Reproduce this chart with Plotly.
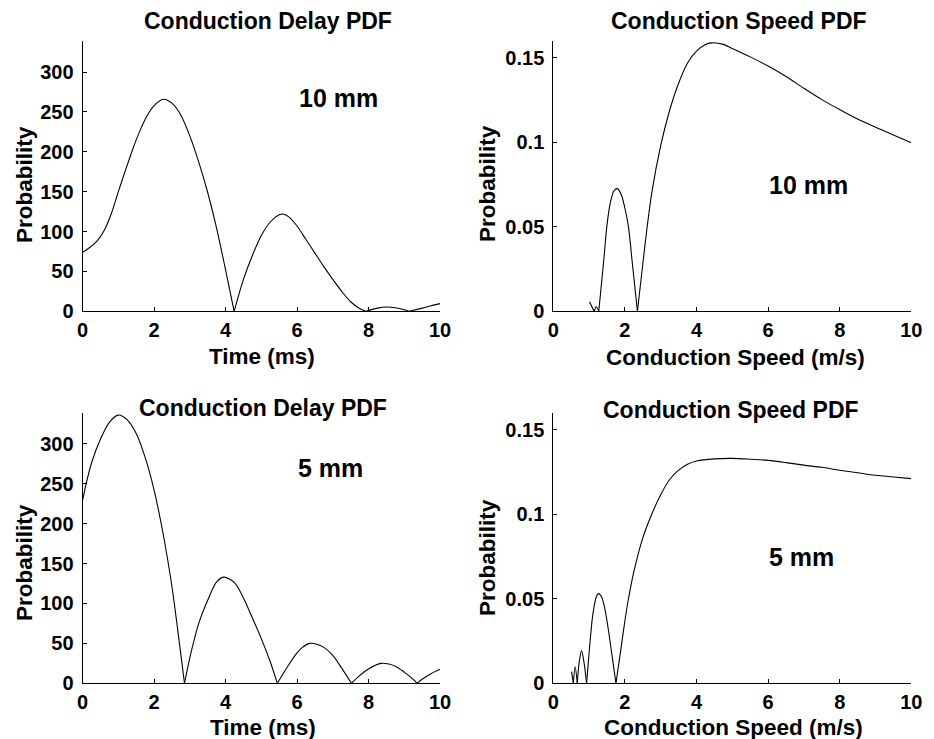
import plotly.graph_objects as go

# The page body adds an 8px margin, so the figure is drawn 8px smaller and
# every screen-pixel position below is shifted by that offset.
SCREEN_W, SCREEN_H = 934, 739
OFF = 8
W, H = SCREEN_W - OFF, SCREEN_H - OFF

# ---- data ----
delay_t_10mm = [0, 0.2, 0.4, 0.6, 0.8, 1.0, 1.2, 1.4, 1.6, 1.8, 2.0, 2.26, 2.5, 2.75, 3.0, 3.25, 3.5, 3.75, 4.0, 4.24,
                4.5, 4.75, 5.0, 5.25, 5.5, 5.61, 5.75, 6.0, 6.25, 6.5, 6.75, 7.0, 7.25, 7.5, 7.75, 7.93,
                8.25, 8.5, 8.75, 9.0, 9.14, 9.5, 9.75, 10.0]
delay_p_10mm = [74, 80, 88, 101, 122, 150, 177, 203, 226, 245, 258, 266, 261, 246, 220, 187, 149, 104, 52, 0,
                40, 70, 95, 112, 121, 122, 119, 107, 90, 73, 56, 40, 25, 12, 3.5, 0,
                4, 5.4, 4.5, 2, 0, 4, 7, 9.6]

delay_t_5mm = [0, 0.1, 0.25, 0.5, 0.75, 1.0, 1.25, 1.5, 1.75, 2.0, 2.25, 2.5, 2.71, 2.85,
               3.0, 3.25, 3.5, 3.75, 3.96, 4.25, 4.5, 4.75, 5.0, 5.25, 5.45,
               5.75, 6.0, 6.15, 6.35, 6.55, 6.75, 7.0, 7.25, 7.52, 7.75, 8.0, 8.35, 8.75, 9.0, 9.25, 9.36,
               9.5, 9.75, 10.0]
delay_p_5mm = [229, 250, 276, 306, 327, 336, 330, 313, 283, 242, 188, 121, 50, 0,
               32, 75, 104, 127, 133, 126, 107, 82, 56, 27, 0,
               22, 38, 45, 50, 49, 45, 35, 19, 0, 9.6, 18, 25, 21.5, 14, 5, 0,
               5, 12, 17.6]

speed_v_10mm = [1.01, 1.14, 1.2, 1.27, 1.4, 1.5, 1.6, 1.7, 1.79, 1.9, 2.0, 2.1, 2.2, 2.3, 2.35,
                2.5, 2.61, 2.75, 3.0, 3.25, 3.5, 3.75, 4.0, 4.25, 4.42, 4.75, 5.0, 5.5, 6.0, 6.5,
                7.0, 7.5, 8.0, 8.5, 9.0, 9.5, 10.0]
speed_p_10mm = [0.0057, 0, 0.0027, 0, 0.028, 0.051, 0.065, 0.0715, 0.0726, 0.069, 0.061, 0.05, 0.03, 0.01, 0,
                0.028, 0.048, 0.07, 0.098, 0.119, 0.135, 0.147, 0.154, 0.158, 0.1589, 0.158, 0.1555,
                0.1506, 0.1452, 0.139, 0.132, 0.1253, 0.1194, 0.1138, 0.109, 0.1044, 0.0997]

speed_v_5mm = [0.51, 0.56, 0.61, 0.67, 0.72, 0.79, 0.86, 0.93, 1.0, 1.1, 1.2, 1.26, 1.35, 1.45, 1.55,
               1.65, 1.75, 1.9, 2.0, 2.1, 2.25, 2.5, 2.75, 3.0, 3.25, 3.5, 3.75, 4.0, 4.5, 5.0,
               5.5, 6.0, 6.5, 7.0, 7.5, 8.0, 8.5, 9.0, 9.5, 10.0]
speed_p_5mm = [0.0069, 0, 0.0098, 0, 0.012, 0.0193, 0.012, 0, 0.018, 0.04, 0.051, 0.053, 0.051, 0.043, 0.03,
               0.015, 0, 0.022, 0.037, 0.05, 0.066, 0.086, 0.1, 0.1115, 0.1205, 0.126, 0.1295, 0.1314, 0.1327,
               0.133, 0.1325, 0.1318, 0.1305, 0.129, 0.1277, 0.126, 0.1245, 0.123, 0.122, 0.121]

x_ticks = [0, 2, 4, 6, 8, 10]
delay_ticks = [0, 50, 100, 150, 200, 250, 300]
speed_ticks = [0, 0.05, 0.1, 0.15]
speed_tick_text = ["0", "0.05", "0.1", "0.15"]

titles = ["Conduction Delay PDF", "Conduction Speed PDF", "Conduction Delay PDF", "Conduction Speed PDF"]
xlabels = ["Time (ms)", "Conduction Speed (m/s)", "Time (ms)", "Conduction Speed (m/s)"]
ylabel = "Probability"
dist_labels = ["10 mm", "10 mm", "5 mm", "5 mm"]

# ---- layout ----
FONT = "Liberation Sans, Arial, Helvetica, sans-serif"


def px_x(p):
    return (p - OFF) / W


def px_y(p):
    return 1 - (p - OFF) / H


def lobes(xs, ys):
    """Split a curve at its zero points (cusps) so each lobe is drawn smooth."""
    segs, cur_x, cur_y = [], [], []
    for xv, yv in zip(xs, ys):
        cur_x.append(xv)
        cur_y.append(yv)
        if yv == 0 and len(cur_x) > 1:
            segs.append((cur_x, cur_y))
            cur_x, cur_y = [xv], [yv]
    if len(cur_x) > 1:
        segs.append((cur_x, cur_y))
    return segs


left_dom = [px_x(82.6), px_x(440)]
right_dom = [px_x(553.3), px_x(911.3)]
top_dom = [px_y(311.3), px_y(41)]
bot_dom = [px_y(683.3), px_y(412.7)]

panels = [
    dict(x=delay_t_10mm, y=delay_p_10mm, xd=left_dom, yd=top_dom, yr=[0, 339], yt=delay_ticks, ytt=None,
         lab_xy=(7.15, 268)),
    dict(x=speed_v_10mm, y=speed_p_10mm, xd=right_dom, yd=top_dom, yr=[0, 0.16], yt=speed_ticks, ytt=speed_tick_text,
         lab_xy=(7.14, 0.0746)),
    dict(x=delay_t_5mm, y=delay_p_5mm, xd=left_dom, yd=bot_dom, yr=[0, 339], yt=delay_ticks, ytt=None,
         lab_xy=(6.95, 270)),
    dict(x=speed_v_5mm, y=speed_p_5mm, xd=right_dom, yd=bot_dom, yr=[0, 0.16], yt=speed_ticks, ytt=speed_tick_text,
         lab_xy=(6.94, 0.0748)),
]

fig = go.Figure()
layout = dict(
    width=W, height=H,
    margin=dict(l=0, r=0, t=0, b=0, pad=0, autoexpand=False),
    paper_bgcolor="white", plot_bgcolor="white",
    showlegend=False,
    font=dict(family=FONT, color="black"),
    annotations=[],
)

tickfont = dict(family=FONT, size=20, color="black", weight="bold")
for i, p in enumerate(panels):
    n = "" if i == 0 else str(i + 1)
    for sx, sy in lobes(p["x"], p["y"]):
        fig.add_trace(go.Scatter(x=sx, y=sy, mode="lines",
                                 line=dict(color="black", width=1.1, shape="spline", smoothing=0.8),
                                 xaxis="x" + n, yaxis="y" + n, hoverinfo="skip", cliponaxis=True))
    layout["xaxis" + n] = dict(domain=p["xd"], anchor="y" + n, range=[0, 10], tickvals=x_ticks,
                               showline=True, linecolor="black", linewidth=1, mirror=False,
                               ticks="inside", ticklen=4, tickcolor="black", tickwidth=1,
                               showgrid=False, zeroline=False, tickfont=tickfont,
                               ticklabelstandoff=1, fixedrange=True, automargin=False)
    ya = dict(domain=p["yd"], anchor="x" + n, range=p["yr"], tickvals=p["yt"],
              showline=True, linecolor="black", linewidth=1, mirror=False,
              ticks="inside", ticklen=4, tickcolor="black", tickwidth=1,
              showgrid=False, zeroline=False, tickfont=tickfont,
              ticklabelstandoff=4, fixedrange=True, automargin=False)
    if p["ytt"] is not None:
        ya["ticktext"] = p["ytt"]
    layout["yaxis" + n] = ya
    layout["annotations"].append(dict(
        x=p["lab_xy"][0], y=p["lab_xy"][1], xref="x" + n, yref="y" + n,
        text=dist_labels[i], showarrow=False, xanchor="center", yanchor="middle",
        font=dict(family=FONT, size=25, color="black", weight="bold")))

title_pos = [(268, 21), (739, 21), (263, 408), (731, 410)]
xlab_pos = [(262.5, 356), (735, 357), (263, 727), (733, 727)]
ylab_pos = [(24, 185), (487, 184), (24, 563), (487, 558)]
for i in range(4):
    layout["annotations"].append(dict(
        x=px_x(title_pos[i][0]), y=px_y(title_pos[i][1]), xref="paper", yref="paper",
        text=titles[i], showarrow=False, xanchor="center", yanchor="middle",
        font=dict(family=FONT, size=23, color="black", weight="bold")))
    layout["annotations"].append(dict(
        x=px_x(xlab_pos[i][0]), y=px_y(xlab_pos[i][1]), xref="paper", yref="paper",
        text=xlabels[i], showarrow=False, xanchor="center", yanchor="middle",
        font=dict(family=FONT, size=22.5, color="black", weight="bold")))
    layout["annotations"].append(dict(
        x=px_x(ylab_pos[i][0]), y=px_y(ylab_pos[i][1]), xref="paper", yref="paper",
        text=ylabel, showarrow=False, xanchor="center", yanchor="middle", textangle=-90,
        font=dict(family=FONT, size=22.5, color="black", weight="bold")))

fig.update_layout(**layout)
fig.write_html("out.html")
